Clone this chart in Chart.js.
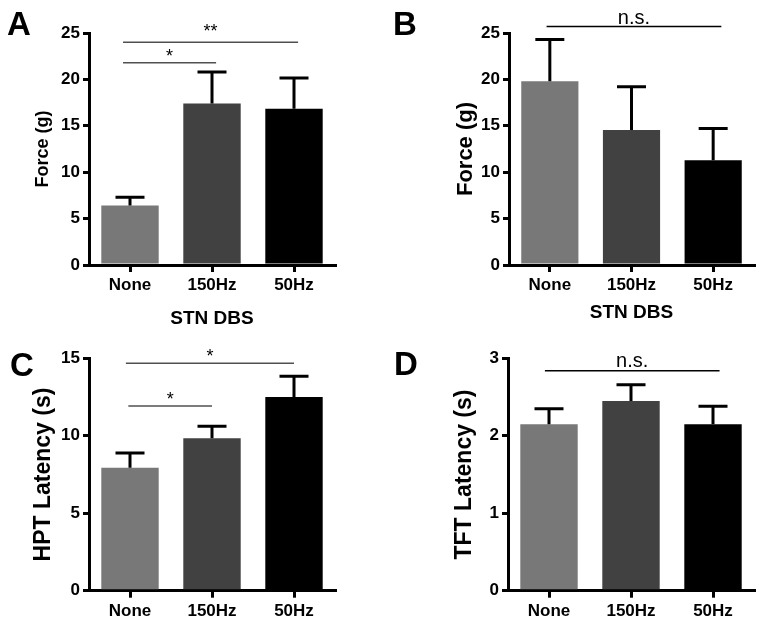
<!DOCTYPE html>
<html>
<head>
<meta charset="utf-8">
<script src="https://cdn.jsdelivr.net/npm/chart.js@4/dist/chart.umd.min.js"></script>
<style>
  html, body { margin: 0; padding: 0; background: #fff; }
  #wrap { position: relative; width: 764px; height: 624px; overflow: hidden; }
  canvas { position: absolute; }
</style>
</head>
<body>
<div id="wrap">
  <canvas id="panelA" width="382" height="340" style="left:0;top:0"></canvas>
  <canvas id="panelB" width="382" height="340" style="left:382px;top:0"></canvas>
  <canvas id="panelC" width="382" height="294" style="left:0;top:330px"></canvas>
  <canvas id="panelD" width="382" height="294" style="left:382px;top:330px"></canvas>
</div>
<script>
// data
const categories = ['None', '150Hz', '50Hz'];
const barColors = ['#787878', '#414141', '#000000'];

const forceA = [6.4, 17.4, 16.85];
const forceAErr = [0.9, 3.4, 3.3];
const forceB = [19.8, 14.55, 11.3];
const forceBErr = [4.5, 4.65, 3.4];
const hptLatency = [7.94, 9.84, 12.5];
const hptLatencyErr = [0.95, 0.77, 1.34];
const tftLatency = [2.15, 2.45, 2.15];
const tftLatencyErr = [0.2, 0.21, 0.23];

// significance brackets: [from category, to category, y value, label, text lift px]
const sigA = [[-0.085, 1.05, 21.8, '*', 1], [-0.085, 2.05, 24.0, '**', 5]];
const sigB = [[-0.04, 2.1, 25.7, 'n.s.', 3]];
const sigC = [[-0.02, 1.0, 11.92, '*', 1], [-0.05, 2.0, 14.68, '*', 1]];
const sigD = [[-0.05, 2.08, 2.84, 'n.s.', 4]];

const FONT = '"Liberation Sans", Arial, Helvetica, sans-serif';

// error bars, brackets and panel letter
const extrasPlugin = {
    id: 'extras',
    afterDatasetsDraw(chart, args, opts) {
        const ctx = chart.ctx;
        const x = chart.scales.x;
        const y = chart.scales.y;
        const meta = chart.getDatasetMeta(0);
        const vals = chart.data.datasets[0].data;

        ctx.save();
        ctx.strokeStyle = '#000';
        ctx.lineWidth = 3;
        meta.data.forEach((bar, i) => {
            const top = y.getPixelForValue(vals[i] + opts.err[i]);
            ctx.beginPath();
            ctx.moveTo(bar.x, bar.y);
            ctx.lineTo(bar.x, top);
            ctx.moveTo(bar.x - 14.5, top);
            ctx.lineTo(bar.x + 14.5, top);
            ctx.stroke();
        });

        opts.sig.forEach(s => {
            const x1 = x.getPixelForValue(s[0]);
            const x2 = x.getPixelForValue(s[1]);
            const yy = y.getPixelForValue(s[2]);
            ctx.strokeStyle = opts.sigColor;
            ctx.lineWidth = 1.6;
            ctx.beginPath();
            ctx.moveTo(x1, yy);
            ctx.lineTo(x2, yy);
            ctx.stroke();
            ctx.fillStyle = '#000';
            ctx.textAlign = 'center';
            ctx.textBaseline = 'alphabetic';
            ctx.font = (s[3] === 'n.s.' ? '20px ' : '18px ') + FONT;
            ctx.fillText(s[3], (x1 + x2) / 2, yy - s[4]);
        });

        ctx.fillStyle = '#000';
        ctx.textAlign = 'left';
        ctx.textBaseline = 'alphabetic';
        ctx.font = 'bold 33px ' + FONT;
        ctx.fillText(opts.letter, opts.letterX, opts.letterY);
        ctx.restore();
    }
};

function makePanel(id, cfg) {
    const canvas = document.getElementById(id);
    const axisFont = { family: FONT, size: 17, weight: 'bold' };
    return new Chart(canvas.getContext('2d'), {
        type: 'bar',
        data: {
            labels: categories,
            datasets: [{
                data: cfg.values,
                backgroundColor: barColors,
                borderWidth: 0,
                barPercentage: 0.7,
                categoryPercentage: 1
            }]
        },
        options: {
            responsive: false,
            animation: false,
            layout: { padding: { top: cfg.top, right: cfg.right, bottom: 0, left: 0 } },
            plugins: {
                legend: { display: false },
                tooltip: { enabled: false },
                extras: {
                    err: cfg.err, sig: cfg.sig, sigColor: cfg.sigColor,
                    letter: cfg.letter, letterX: cfg.letterX, letterY: cfg.letterY
                }
            },
            scales: {
                x: {
                    grid: { display: true, drawOnChartArea: false, offset: false, color: '#000', lineWidth: 3, tickLength: 7 },
                    border: { display: true, color: '#000', width: 3 },
                    ticks: { color: '#000', font: axisFont, padding: 3, maxRotation: 0 },
                    title: {
                        display: !!cfg.xTitle, text: cfg.xTitle || '', color: '#000',
                        font: { family: FONT, size: 19, weight: 'bold' },
                        padding: { top: 0, bottom: cfg.xTitlePad || 0 }
                    },
                    afterFit: s => { s.height = cfg.xHeight; }
                },
                y: {
                    min: 0,
                    max: cfg.max,
                    grid: { display: true, drawOnChartArea: false, color: '#000', lineWidth: 3, tickLength: 6 },
                    border: { display: true, color: '#000', width: 3 },
                    ticks: { stepSize: cfg.step, color: '#000', font: axisFont, padding: 3 },
                    title: {
                        display: true, text: cfg.yTitle, color: '#000',
                        font: { family: FONT, size: cfg.yTitleSize, weight: 'bold' },
                        padding: { top: cfg.yTitlePad, bottom: 0 }
                    },
                    afterFit: s => { s.width = cfg.yWidth; }
                }
            }
        },
        plugins: [extrasPlugin]
    });
}

makePanel('panelA', {
    values: forceA, err: forceAErr, sig: sigA, sigColor: '#505050',
    letter: 'A', letterX: 7, letterY: 35,
    max: 25, step: 5, yTitle: 'Force (g)', yTitleSize: 18, yTitlePad: 32,
    xTitle: 'STN DBS', xTitlePad: 9.6,
    top: 33, right: 47, yWidth: 89, xHeight: 75
});
makePanel('panelB', {
    values: forceB, err: forceBErr, sig: sigB, sigColor: '#000',
    letter: 'B', letterX: 11, letterY: 35,
    max: 25, step: 5, yTitle: 'Force (g)', yTitleSize: 22, yTitlePad: 70.8,
    xTitle: 'STN DBS', xTitlePad: 16,
    top: 33, right: 10, yWidth: 127, xHeight: 75
});
makePanel('panelC', {
    values: hptLatency, err: hptLatencyErr, sig: sigC, sigColor: '#505050',
    letter: 'C', letterX: 10, letterY: 46,
    max: 15, step: 5, yTitle: 'HPT Latency (s)', yTitleSize: 23, yTitlePad: 30.2,
    top: 28.3, right: 47, yWidth: 89, xHeight: 33.3
});
makePanel('panelD', {
    values: tftLatency, err: tftLatencyErr, sig: sigD, sigColor: '#000',
    letter: 'D', letterX: 12, letterY: 45,
    max: 3, step: 1, yTitle: 'TFT Latency (s)', yTitleSize: 23, yTitlePad: 69.2,
    top: 28.3, right: 10, yWidth: 126, xHeight: 33.3
});
</script>
</body>
</html>
